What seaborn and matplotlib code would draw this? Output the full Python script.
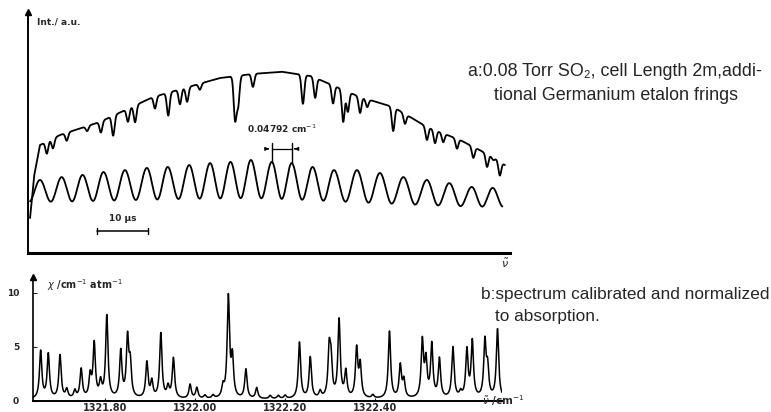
import numpy as np
import pandas as pd
import matplotlib
matplotlib.use("Agg")
import matplotlib.pyplot as plt
import seaborn as sns

# ---------------- data: panel a (time in µs, intensity in a.u.) ----------------
env_t = [0.4, 1.2, 2.35, 6.3, 14.1, 24.5, 37.6, 44.0, 49.8, 55.5, 59.2, 65.1, 71.6, 78.2, 84.7, 91.2, 93.5]
env_i = [14.5, 32.0, 44.8, 49.0, 54.4, 64.7, 72.6, 74.3, 75.2, 73.4, 70.1, 64.7, 60.6, 52.3, 46.9, 39.8, 36.5]

dip_t = [3.7, 4.9, 7.6, 11.6, 14.3, 16.7, 19.6, 21.0, 24.9, 27.5, 29.8, 31.2, 33.7,
         40.6, 41.2, 44.1, 53.9, 56.3, 59.8, 61.8, 62.7, 65.1, 66.5, 71.6, 73.9,
         78.2, 79.8, 81.4, 84.1, 87.3, 90.0, 91.2, 92.5]
dip_d = [5.0, 4.1, 3.3, 2.1, 4.6, 8.3, 5.4, 7.0, 5.0, 9.5, 6.2, 6.0, 2.5,
         17.8, 12.0, 5.4, 12.0, 8.3, 7.5, 13.3, 8.3, 6.6, 3.3, 10.0, 4.1,
         5.4, 5.4, 3.7, 4.1, 4.6, 5.4, 1.2, 5.8]

etalon_peak_t = [2.35, 6.6, 10.7, 14.8, 19.0, 23.3, 27.4, 31.6, 35.7, 39.7, 43.7,
                 47.8, 51.7, 55.8, 60.0, 64.5, 69.0, 73.6, 78.2, 82.6, 87.0, 91.1]
etalon_peak_i = [30.3, 31.5, 32.4, 33.6, 34.4, 35.3, 35.7, 36.5, 37.3, 37.8, 38.6,
                 37.8, 37.3, 35.7, 34.4, 34.4, 33.2, 31.5, 30.3, 29.0, 27.4, 27.0]
etalon_trough_i = [21.3, 21.3, 21.5, 21.7, 21.9, 22.1, 22.3, 22.5, 22.6, 22.7, 22.8,
                   22.6, 22.3, 21.9, 21.5, 21.1, 20.7, 20.3, 19.9, 19.6, 19.3, 19.2]

# ---------------- data: panel b (wavenumber / cm^-1, chi / cm^-1 atm^-1) ----------------
peak_wn = [1321.657, 1321.674, 1321.700, 1321.715, 1321.733, 1321.747, 1321.767, 1321.776,
           1321.790, 1321.804, 1321.835, 1321.850, 1321.856, 1321.893, 1321.904, 1321.924,
           1321.940, 1321.952, 1321.989, 1322.004, 1322.022, 1322.040, 1322.062, 1322.074,
           1322.083, 1322.113, 1322.137, 1322.167, 1322.185, 1322.200, 1322.232, 1322.256,
           1322.278, 1322.298, 1322.302, 1322.320, 1322.335, 1322.359, 1322.367, 1322.395,
           1322.432, 1322.456, 1322.464, 1322.505, 1322.513, 1322.526, 1322.543, 1322.573,
           1322.590, 1322.604, 1322.616, 1322.644, 1322.650, 1322.672]
peak_h = [4.4, 4.1, 4.0, 0.8, 0.7, 2.7, 2.0, 5.0, 1.4, 7.6, 4.3, 5.4, 3.0, 3.3, 1.5, 6.0,
          1.0, 3.7, 1.3, 1.0, 0.3, 0.3, 1.0, 9.3, 3.6, 2.7, 1.0, 0.3, 0.3, 0.3, 5.2, 3.8,
          0.6, 4.2, 3.2, 7.2, 2.4, 4.5, 3.0, 0.3, 6.2, 3.0, 1.6, 5.2, 3.3, 4.9, 3.6, 4.7,
          0.5, 4.4, 5.2, 5.1, 2.6, 6.4]
tick_wn = [1321.80, 1322.00, 1322.20, 1322.40]

# ---------------- build curves ----------------
t = np.linspace(env_t[0], env_t[-1], 4000)
env = np.interp(t, env_t, env_i)
sig_d = 0.27
spec = env - sum(d * np.exp(-(t - c) ** 2 / (2 * sig_d ** 2)) for c, d in zip(dip_t, dip_d))

te = np.linspace(0.4, 93.0, 3000)
etal = np.interp(te, etalon_peak_t, etalon_trough_i)
pk = np.array(etalon_peak_t)
n = len(pk)
for k, (c, p, b) in enumerate(zip(etalon_peak_t, etalon_peak_i, etalon_trough_i)):
    dl = pk[k] - pk[k - 1] if k > 0 else pk[1] - pk[0]
    dr = pk[k + 1] - pk[k] if k < n - 1 else pk[k] - pk[k - 1]
    d = np.where(te < c, dl, dr)
    m = np.abs(te - c) < d / 2
    etal[m] += (p - b) * np.cos(np.pi * (te[m] - c) / d[m]) ** 2

wn = np.linspace(1321.640, 1322.682, 6000)
gam = 0.0031
chi = 0.15 + sum(h * gam ** 2 / ((wn - c) ** 2 + gam ** 2) for c, h in zip(peak_wn, peak_h))

df_a = pd.DataFrame({"t": np.concatenate([t, te]),
                     "I": np.concatenate([spec, etal]),
                     "trace": ["spectrum"] * len(t) + ["etalon"] * len(te)})
df_b = pd.DataFrame({"wn": wn, "chi": chi})

# ---------------- figure ----------------
sns.set_style("white")
plt.rcParams["font.family"] = ["DejaVu Sans"]
W, H = 771, 412
fig = plt.figure(figsize=(W / 100, H / 100), dpi=100)

def fx(x):
    return x / W

def fy(y):
    return 1 - y / H

ax1 = fig.add_axes([fx(28), fy(253), 482 / W, 241 / H])
ax2 = fig.add_axes([fx(33), fy(401), 469 / W, 124 / H])

sns.lineplot(data=df_a, x="t", y="I", units="trace", estimator=None, sort=False,
             color="black", lw=1.3, ax=ax1, legend=False)
sns.lineplot(data=df_b, x="wn", y="chi", estimator=None, sort=False,
             color="black", lw=1.1, ax=ax2, legend=False)

# panel a styling
ax1.set_xlim(0, 94.5)
ax1.set_ylim(0, 100)
ax1.set_xticks([])
ax1.set_yticks([])
ax1.set_xlabel("")
ax1.set_ylabel("")
for s in ["top", "right"]:
    ax1.spines[s].set_visible(False)
ax1.spines["left"].set_linewidth(1.4)
ax1.spines["bottom"].set_linewidth(2.2)
ax1.spines["left"].set_color("black")
ax1.spines["bottom"].set_color("black")
ax1.plot([0], [1], marker="^", color="black", ms=5, transform=ax1.transAxes, clip_on=False)

# scale bar 10 µs
ax1.plot([13.5, 23.5], [9.1, 9.1], color="black", lw=1.1)
ax1.plot([13.5, 13.5], [7.9, 10.3], color="black", lw=1.0)
ax1.plot([23.5, 23.5], [7.9, 10.3], color="black", lw=1.0)
ax1.text(18.5, 12.5, "10 µs", ha="center", va="bottom", fontsize=6.5, fontweight="bold")

# etalon free spectral range marker
p1, p2 = etalon_peak_t[11], etalon_peak_t[12]
ax1.plot([p1, p1], [etalon_peak_i[11], 45.6], color="black", lw=1.0)
ax1.plot([p2, p2], [etalon_peak_i[12], 45.6], color="black", lw=1.0)
ax1.annotate("", xy=(p1, 43.2), xytext=(46.5, 43.2),
             arrowprops=dict(arrowstyle="-|>", color="black", lw=0.9, mutation_scale=5))
ax1.annotate("", xy=(p2, 43.2), xytext=(52.9, 43.2),
             arrowprops=dict(arrowstyle="-|>", color="black", lw=0.9, mutation_scale=5))
ax1.plot([p1, p2], [43.2, 43.2], color="black", lw=0.9)
ax1.text(49.8, 51.5, r"0.04792 cm$^{-1}$", ha="center", va="center", fontsize=6.5,
         fontweight="bold")

# panel b styling
ax2.set_xlim(1321.640, 1322.682)
ax2.set_ylim(0, 11.48)
ax2.set_xlabel("")
ax2.set_ylabel("")
for s in ["top", "right"]:
    ax2.spines[s].set_visible(False)
ax2.spines["left"].set_linewidth(1.2)
ax2.spines["bottom"].set_linewidth(1.4)
ax2.spines["left"].set_color("black")
ax2.spines["bottom"].set_color("black")
ax2.set_yticks([0, 5, 10])
ax2.set_yticklabels(["0", "5", "10"])
ax2.set_xticks(tick_wn)
ax2.set_xticklabels([f"{v:.2f}" for v in tick_wn])
ax2.tick_params(axis="y", direction="in", length=3, width=0.8, pad=10, labelsize=6.5,
                left=True)
ax2.tick_params(axis="x", direction="in", length=2, width=0.8, pad=1.5, labelsize=7,
                bottom=True)
for lab in ax2.get_xticklabels() + ax2.get_yticklabels():
    lab.set_fontweight("bold")
ax2.plot([0], [1], marker="^", color="black", ms=4.5, transform=ax2.transAxes, clip_on=False)

# axis texts
fig.text(fx(37), fy(22), "Int./ a.u.", ha="left", va="center", fontsize=6.5, fontweight="bold")
fig.text(fx(505), fy(263), r"$\tilde{\nu}$", ha="center", va="center", fontsize=8)
fig.text(fx(47), fy(285), r"$\chi$ /cm$^{-1}$ atm$^{-1}$", ha="left", va="center",
         fontsize=7, fontweight="bold")
fig.text(fx(482), fy(401), r"$\tilde{\nu}$ /cm$^{-1}$", ha="left", va="center", fontsize=7.5,
         fontweight="bold")

# right-hand captions
capa = dict(ha="left", va="center", fontsize=12.9, family=["Liberation Sans", "DejaVu Sans"])
capb = dict(ha="left", va="center", fontsize=12.4, family=["Liberation Sans", "DejaVu Sans"])
fig.text(fx(468), fy(72), "a:0.08 Torr SO₂, cell Length 2m,addi-", **capa)
fig.text(fx(494), fy(95), "tional Germanium etalon frings", **capa)
fig.text(fx(481), fy(295), "b:spectrum calibrated and normalized", **capb)
fig.text(fx(495), fy(317), "to absorption.", **capb)

fig.savefig("out.png", dpi=100)
